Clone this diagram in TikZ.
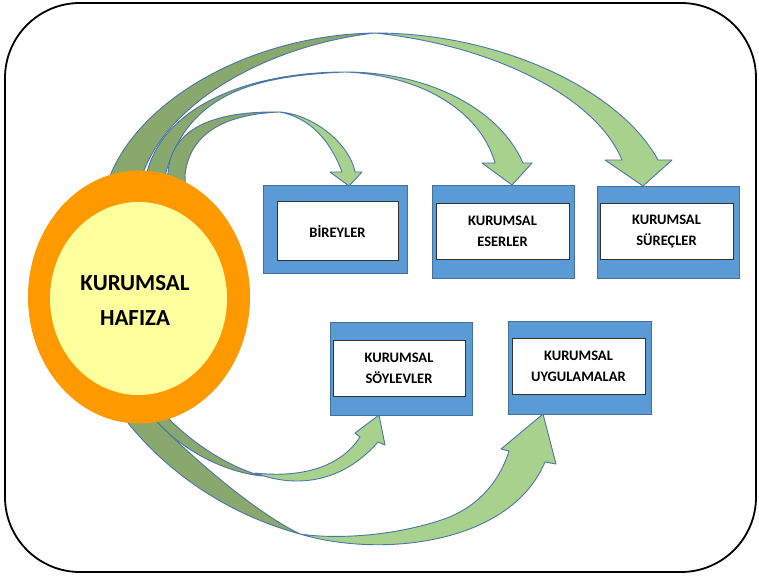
\documentclass[tikz,border=0pt]{standalone}
\usepackage{fontspec}
\setmainfont{Carlito}
\usetikzlibrary{shapes.geometric}
\definecolor{ringorange}{HTML}{FF9900}
\definecolor{coreyellow}{HTML}{FFFF9E}
\definecolor{boxblue}{HTML}{5B9BD5}
\definecolor{boxedge}{HTML}{41719C}
\definecolor{arrowdark}{HTML}{88A86E}
\definecolor{arrowlight}{HTML}{A9D18E}
\definecolor{arrowedge}{HTML}{4A76A8}
\begin{document}
\begin{tikzpicture}[x=1pt,y=-1pt,
  frame/.style={draw=black,line width=1.8pt,rounded corners=75pt},
  back/.style={fill=arrowdark,draw=arrowedge,line width=0.9pt,line join=round},
  front/.style={fill=arrowlight,draw=arrowedge,line width=0.9pt,line join=round},
  outbox/.style={draw=boxedge,fill=boxblue,line width=0.6pt,inner sep=0pt},
  inbox/.style={draw=black!80,fill=white,line width=1pt,inner sep=0pt,align=center,
    font=\bfseries\fontsize{14.5}{21}\selectfont},
  ring/.style={ellipse,fill=ringorange,inner sep=0pt},
  core/.style={ellipse,fill=coreyellow,inner sep=0pt}
]
\useasboundingbox (0,0) rectangle (759,577);

% rounded outer frame
\draw[frame] (5,3) rectangle (756,572);

% ---- curved ribbon arrows: dark back face from the disc, light front face with the head ----
% to KURUMSAL SURECLER
\path[back] (106,200) -- (110,176) .. controls (140,100) and (250,35) .. (375,33)
  .. controls (270,45) and (170,100) .. (143,173) -- (145,200) -- cycle;
\path[front] (375,33) .. controls (500,33) and (620,90) .. (658,160)
  -- (672,160) -- (643,186) -- (605,160) -- (622,160)
  .. controls (595,95) and (490,45) .. (375,33) -- cycle;

% to KURUMSAL ESERLER
\path[back] (145,200) -- (147,172) .. controls (165,105) and (250,72) .. (345,72)
  .. controls (260,76) and (190,90) .. (166,172) -- (167,200) -- cycle;
\path[front] (345,72) .. controls (430,72) and (500,110) .. (523,163)
  -- (532,163) -- (512,185) -- (482,163) -- (495,163)
  .. controls (480,110) and (420,75) .. (345,72) -- cycle;

% to BIREYLER
\path[back] (167,200) -- (168,172) .. controls (172,125) and (220,111) .. (280,112)
  .. controls (230,114) and (190,130) .. (185,175) -- (186,200) -- cycle;
\path[front] (280,112) .. controls (315,115) and (350,145) .. (355,172)
  -- (362,172) -- (349,186) -- (330,172) -- (342,172)
  .. controls (330,140) and (310,118) .. (280,112) -- cycle;

% to KURUMSAL SOYLEVLER
\path[back] (155,405) -- (157,422) .. controls (185,452) and (225,472) .. (262,476)
  .. controls (225,466) and (190,440) .. (170,420) -- (168,405) -- cycle;
\path[front] (255,473) .. controls (300,490) and (345,480) .. (378,442)
  -- (385,445) -- (379,415) -- (355,433) -- (360,437)
  .. controls (340,468) and (300,478) .. (255,473) -- cycle;

% to KURUMSAL UYGULAMALAR
\path[back] (124,405) -- (128,423) .. controls (170,475) and (230,515) .. (300,534)
  .. controls (255,512) and (195,460) .. (157,422) -- (156,405) -- cycle;
\path[front] (300,534) .. controls (380,558) and (510,545) .. (545,462)
  -- (556,464) -- (543,414) -- (501,449) -- (509,451)
  .. controls (500,480) and (480,505) .. (447,518)
  .. controls (400,535) and (340,540) .. (300,534) -- cycle;

% ---- central memory disc ----
\node[ring,minimum width=222pt,minimum height=253pt] (memring) at (139,297) {};
\node[core,minimum width=177pt,minimum height=193pt] (mem) at (138.5,298.5) {};
\node[font=\bfseries\fontsize{23}{35}\selectfont,align=center,inner sep=0pt] (memtext) at (135,300) {KURUMSAL\\HAFIZA};

% ---- boxes ----
\node[outbox,minimum width=144pt,minimum height=88pt] (b1o) at (335,229) {};
\node[inbox,minimum width=121pt,minimum height=58pt] (b1) at (337.5,231) {BİREYLER};

\node[outbox,minimum width=142pt,minimum height=93pt] (b2o) at (503,231.5) {};
\node[inbox,minimum width=133pt,minimum height=55pt] (b2) at (502.5,231.5) {KURUMSAL\\ESERLER};

\node[outbox,minimum width=142pt,minimum height=92pt] (b3o) at (668,232) {};
\node[inbox,minimum width=133pt,minimum height=55pt] (b3) at (666.5,231.5) {KURUMSAL\\SÜREÇLER};

\node[outbox,minimum width=142pt,minimum height=93pt] (b4o) at (401,368.5) {};
\node[inbox,minimum width=132pt,minimum height=56pt] (b4) at (399,368) {KURUMSAL\\SÖYLEVLER};

\node[outbox,minimum width=143pt,minimum height=93pt] (b5o) at (579.5,367.5) {};
\node[inbox,minimum width=133pt,minimum height=56pt] (b5) at (578.5,366) {KURUMSAL\\UYGULAMALAR};
\end{tikzpicture}
\end{document}
